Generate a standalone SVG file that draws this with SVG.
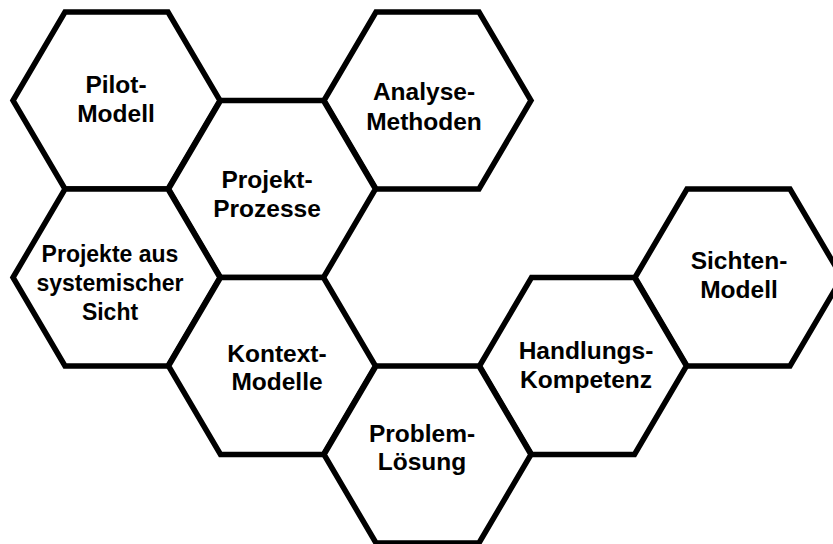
<svg xmlns="http://www.w3.org/2000/svg" xmlns:xlink="http://www.w3.org/1999/xlink" width="833" height="544" viewBox="0 0 833 544">
<style>
.hex{fill:#fff;stroke:#000;stroke-width:5.5;stroke-linejoin:miter}
.t{font-family:"Liberation Sans",Arial,sans-serif;font-weight:bold;font-size:24.5px;fill:#000;text-anchor:middle}
.s{font-size:23px}
</style>
<defs>
<polygon id="hx" points="-103.5,0 -51.5,-88.5 51.5,-88.5 103.5,0 51.5,88.5 -51.5,88.5"/>
</defs>
<rect width="833" height="544" fill="#fff"/>
<g id="connectors"></g>
<g id="pilot-modell">
<use xlink:href="#hx" class="hex" transform="translate(116.5,100.5)"/>
<text class="t" x="116" y="93">Pilot-</text>
<text class="t" x="116" y="122">Modell</text>
</g>
<g id="analyse-methoden">
<use xlink:href="#hx" class="hex" transform="translate(427.5,100.5)"/>
<text class="t" x="424" y="100">Analyse-</text>
<text class="t" x="424" y="130">Methoden</text>
</g>
<g id="projekt-prozesse">
<use xlink:href="#hx" class="hex" transform="translate(272,189)"/>
<text class="t" x="267" y="188">Projekt-</text>
<text class="t" x="267" y="217">Prozesse</text>
</g>
<g id="projekte-systemisch">
<use xlink:href="#hx" class="hex" transform="translate(116.5,277.5)"/>
<text class="t s" x="110" y="262">Projekte aus</text>
<text class="t s" x="110" y="291">systemischer</text>
<text class="t s" x="110" y="320">Sicht</text>
</g>
<g id="kontext-modelle">
<use xlink:href="#hx" class="hex" transform="translate(272,366)"/>
<text class="t" x="277" y="362">Kontext-</text>
<text class="t" x="277" y="390">Modelle</text>
</g>
<g id="sichten-modell">
<use xlink:href="#hx" class="hex" transform="translate(738.5,277.5)"/>
<text class="t" x="739" y="269">Sichten-</text>
<text class="t" x="739" y="298">Modell</text>
</g>
<g id="handlungs-kompetenz">
<use xlink:href="#hx" class="hex" transform="translate(583,366)"/>
<text class="t" x="586" y="359">Handlungs-</text>
<text class="t" x="586" y="388">Kompetenz</text>
</g>
<g id="problem-loesung">
<use xlink:href="#hx" class="hex" transform="translate(427.5,454.5)"/>
<text class="t" x="422" y="442">Problem-</text>
<text class="t" x="422" y="470">Lösung</text>
</g>
</svg>
